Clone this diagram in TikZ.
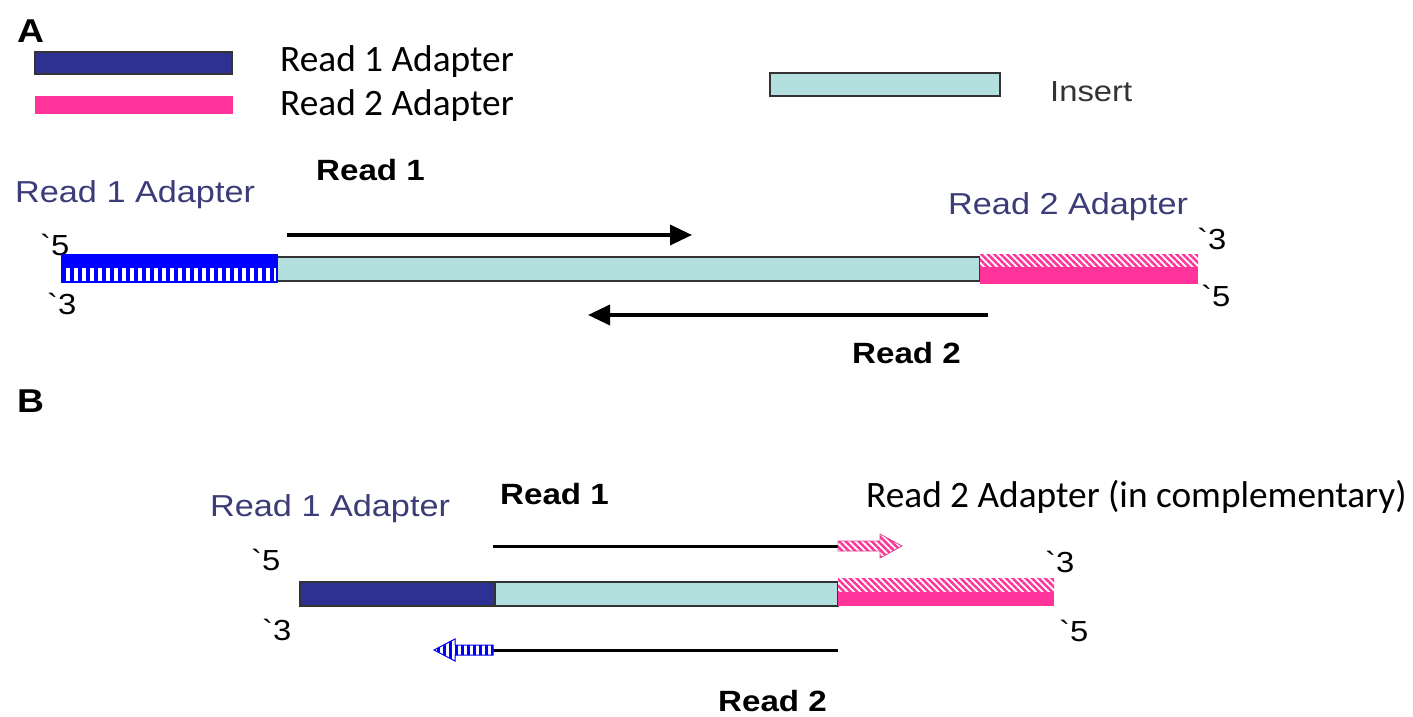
\documentclass[tikz,border=0pt]{standalone}
\usepackage{fontspec}
\usetikzlibrary{patterns.meta,arrows.meta}
\newfontfamily\arialf[FakeStretch=1.13]{Liberation Sans}
\newfontfamily\calib{Carlito}
\definecolor{navy}{HTML}{2E3192}
\definecolor{pureblue}{HTML}{0000FF}
\definecolor{hotpink}{HTML}{FF3399}
\definecolor{insertc}{HTML}{B3E0DF}
\definecolor{lblue}{HTML}{3C3C78}
\definecolor{edge}{HTML}{333333}
\tikzset{
  txt/.style={inner sep=0pt, anchor=base west},
  leg/.style={txt, font=\calib\fontsize{37.3}{42}\selectfont},
  lab/.style={txt, text=lblue, font=\arialf\fontsize{30.3}{35}\selectfont},
  bold/.style={txt, font=\arialf\bfseries\fontsize{29.3}{34}\selectfont},
  end/.style={txt, font=\arialf\fontsize{29}{33}\selectfont},
  panel/.style={txt, font=\arialf\bfseries\fontsize{33}{38}\selectfont},
  insertbox/.style={fill=insertc, draw=edge, line width=1.5pt},
  vstripe/.style={preaction={fill=white}, pattern={Lines[angle=90,distance=8pt,line width=4.5pt]}, pattern color=pureblue},
  dstripe/.style={preaction={fill=white}, pattern={Lines[angle=-45,distance=4.6pt,line width=2.5pt]}, pattern color=hotpink},
  readarrow/.style={line width=3.5pt, -{Triangle[length=22pt,width=20pt]}},
  readline/.style={line width=3pt},
}
\begin{document}
\begin{tikzpicture}[x=1pt,y=1pt]
\useasboundingbox[fill=white] (0,0) rectangle (1413,-717);

% ---------- Panel A legend ----------
\node[panel] (lA) at (17,-43) {A};
\draw[fill=navy, draw=black!80, line width=1.2pt] (35,-52) rectangle (232,-74);
\fill[hotpink] (35,-96) rectangle (233,-114);
\node[leg] (l1) at (280,-71) {Read 1 Adapter};
\node[leg] (l2) at (280,-115) {Read 2 Adapter};
\draw[insertbox] (770,-73) rectangle (1000,-96);
\node[txt, text=edge, font=\arialf\fontsize{29}{34}\selectfont] (lins) at (1050,-101) {Insert};

% ---------- Panel A ----------
\node[lab] (a1lab) at (15,-202) {Read 1 Adapter};
\node[bold] (aR1) at (316,-180) {Read 1};
\node[lab] (a2lab) at (948,-214) {Read 2 Adapter};
\node[end] (a5l) at (40,-255) {`5};
\node[end] (a3l) at (47,-314) {`3};
\node[end] (a3r) at (1197,-249) {`3};
\node[end] (a5r) at (1201,-306) {`5};
% insert
\draw[insertbox] (277,-257) rectangle (980,-281);
% read 1 adapter (blue)
\fill[pureblue] (62,-255) rectangle (277,-268);
\path[vstripe] (62,-268) rectangle (277,-282);
\draw[pureblue, line width=1.5pt] (62,-255) rectangle (277,-282);
% read 2 adapter (pink)
\path[dstripe] (980,-254) rectangle (1198,-267);
\fill[hotpink] (980,-267) rectangle (1198,-284);
% reads
\coordinate (r1s) at (287,-235);
\coordinate (r1e) at (692,-235);
\draw[readarrow] (r1s) -- (r1e);
\coordinate (r2s) at (988,-315);
\coordinate (r2e) at (588,-315);
\draw[readarrow] (r2s) -- (r2e);
\node[bold] (aR2) at (852,-363) {Read 2};

% ---------- Panel B ----------
\node[panel] (lB) at (17,-412) {B};
\node[lab] (b1lab) at (210,-516) {Read 1 Adapter};
\node[bold] (bR1) at (500,-504) {Read 1};
\node[leg] (b2lab) at (866,-507) {Read 2 Adapter (in complementary)};
\node[end] (b5l) at (251,-570) {`5};
\node[end] (b3l) at (262,-640) {`3};
\node[end] (b3r) at (1045,-572) {`3};
\node[end] (b5r) at (1059,-641) {`5};
% strands
\draw[fill=navy, draw=black!80, line width=1.2pt] (300,-582) rectangle (495,-606);
\draw[insertbox] (495,-582) rectangle (838,-606);
\path[dstripe] (838,-578) rectangle (1054,-592);
\fill[hotpink] (838,-592) rectangle (1054,-606);
% read 1 with pink adapter arrow
\coordinate (b1s) at (493,-546);
\coordinate (b1e) at (838,-546);
\draw[readline] (b1s) -- (b1e);
\path[dstripe, draw=hotpink!70!gray, line width=0.8pt]
  (838,-541) -- (880,-541) -- (880,-534) -- (902,-546) -- (880,-558) -- (880,-551) -- (838,-551) -- cycle;
% read 2 with blue adapter arrow
\coordinate (b2s) at (838,-650);
\coordinate (b2e) at (493,-650);
\draw[readline] (b2s) -- (b2e);
\path[vstripe, pattern={Lines[angle=90,distance=6pt,line width=3pt]}, draw=pureblue, line width=1pt]
  (493,-645) -- (455,-645) -- (455,-639) -- (434,-650) -- (455,-661) -- (455,-655) -- (493,-655) -- cycle;
\node[bold] (bR2) at (718,-711) {Read 2};
\end{tikzpicture}
\end{document}
